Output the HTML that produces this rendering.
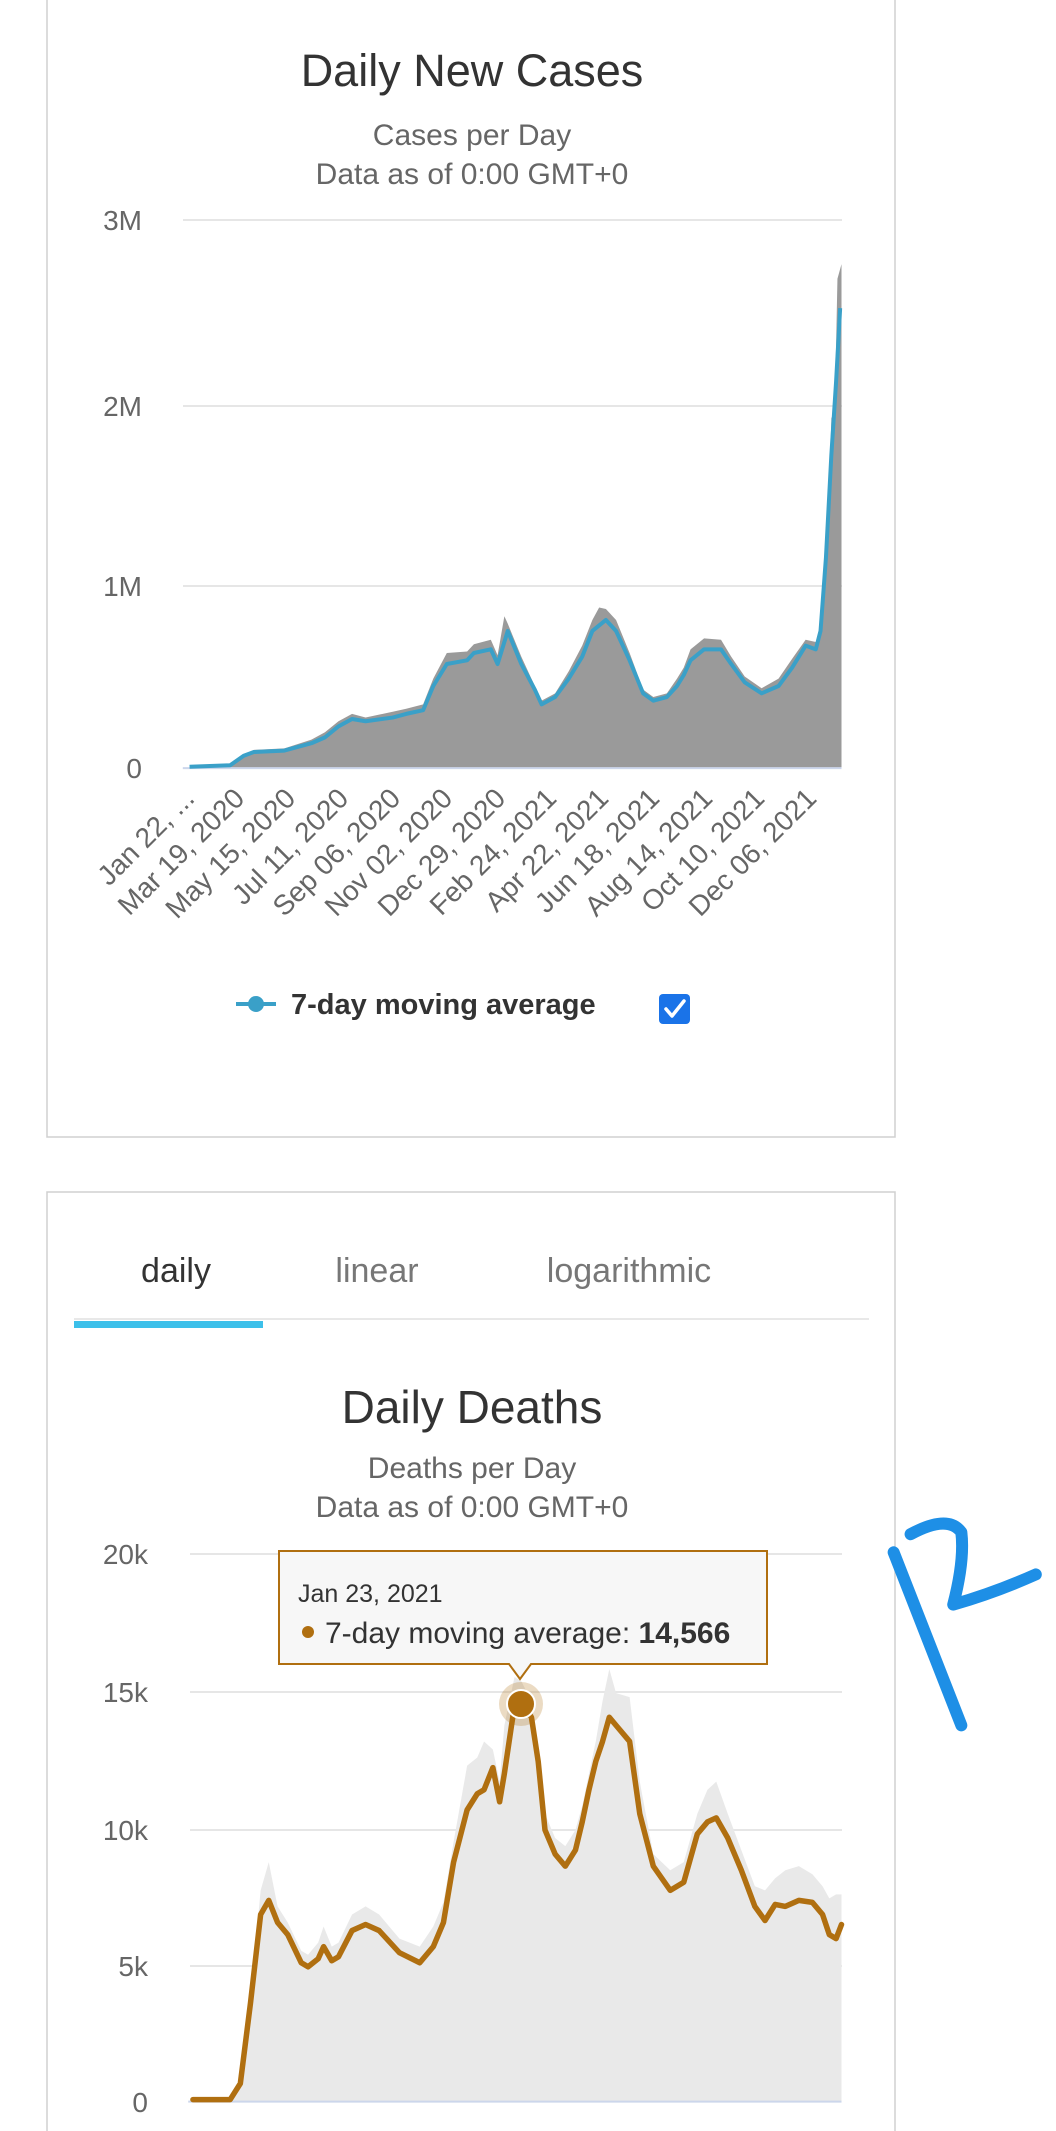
<!DOCTYPE html>
<html><head><meta charset="utf-8"><style>
body{margin:0;background:#fff;width:1056px;height:2131px;overflow:hidden;font-family:"Liberation Sans",sans-serif;}
svg{display:block}
</style></head><body>
<svg width="1056" height="2131" viewBox="0 0 1056 2131" font-family="Liberation Sans, sans-serif">
<rect x="47" y="-5" width="848" height="1142" fill="#fff" stroke="#d0d0d0" stroke-width="1.5"/>
<rect x="47" y="1192" width="848" height="960" fill="#fff" stroke="#d0d0d0" stroke-width="1.5"/>

<text x="472" y="86" text-anchor="middle" font-size="45" fill="#333">Daily New Cases</text>
<text x="472" y="145" text-anchor="middle" font-size="30" fill="#666">Cases per Day</text>
<text x="472" y="184" text-anchor="middle" font-size="30" fill="#666">Data as of 0:00 GMT+0</text>
<g stroke="#e6e6e6" stroke-width="2">
<line x1="183" y1="220" x2="842" y2="220"/><line x1="183" y1="406" x2="842" y2="406"/><line x1="183" y1="586" x2="842" y2="586"/>
</g>
<g font-size="28" fill="#666" text-anchor="end">
<text x="142" y="230">3M</text><text x="142" y="416">2M</text><text x="142" y="596">1M</text><text x="142" y="778">0</text>
</g>
<g transform="matrix(0.677,0,0,0.7337,0,0)">
<path fill="#9a9a9a" stroke="none" d="M280,1047 L340,1043 L360,1028 L375,1022 L420,1020 L460,1008 L480,998 L500,983 L520,973 L540,978 L580,970 L600,966 L625,960 L640,925 L660,890 L690,888 L700,878 L725,872 L735,893 L745,840 L750,850 L770,895 L790,935 L800,955 L820,945 L840,915 L860,880 L875,845 L885,828 L895,830 L910,845 L930,890 L950,940 L965,950 L985,945 L1000,925 L1010,910 L1020,885 L1040,870 L1065,872 L1080,895 L1100,922 L1125,938 L1150,925 L1170,898 L1190,872 L1205,875 L1212,850 L1218,800 L1222,760 L1228,570 L1233,560 L1237,380 L1243,360 L1243,1047 Z"/>
<path vector-effect="non-scaling-stroke" fill="none" stroke="#ccd6eb" stroke-width="2" d="M270,1047 L1243,1047"/>
<path vector-effect="non-scaling-stroke" fill="none" stroke="#3aa0c8" stroke-width="4" stroke-linejoin="round" d="M280,1045 L340,1043 L360,1030 L375,1025 L420,1023 L460,1013 L480,1005 L500,990 L520,980 L540,983 L580,978 L600,973 L625,968 L640,935 L660,905 L690,900 L700,890 L725,885 L735,905 L750,860 L770,905 L790,940 L800,960 L820,950 L840,925 L860,895 L875,860 L895,845 L910,860 L930,900 L950,945 L965,955 L985,950 L1000,935 L1010,920 L1020,900 L1040,885 L1065,885 L1080,905 L1100,930 L1125,945 L1150,935 L1170,910 L1190,880 L1205,885 L1212,860 L1220,760 L1228,620 L1235,520 L1241,420"/>
</g>
<g font-size="28" fill="#666" text-anchor="end">
<text transform="translate(196,800) rotate(-45)">Jan 22, ...</text>
<text transform="translate(246,800) rotate(-45)">Mar 19, 2020</text>
<text transform="translate(297,800) rotate(-45)">May 15, 2020</text>
<text transform="translate(350,800) rotate(-45)">Jul 11, 2020</text>
<text transform="translate(402,800) rotate(-45)">Sep 06, 2020</text>
<text transform="translate(454,800) rotate(-45)">Nov 02, 2020</text>
<text transform="translate(507,800) rotate(-45)">Dec 29, 2020</text>
<text transform="translate(558,800) rotate(-45)">Feb 24, 2021</text>
<text transform="translate(610,800) rotate(-45)">Apr 22, 2021</text>
<text transform="translate(661,800) rotate(-45)">Jun 18, 2021</text>
<text transform="translate(714,800) rotate(-45)">Aug 14, 2021</text>
<text transform="translate(766,800) rotate(-45)">Oct 10, 2021</text>
<text transform="translate(818,800) rotate(-45)">Dec 06, 2021</text>
</g>
<line x1="236" y1="1004" x2="276" y2="1004" stroke="#3aa0c8" stroke-width="4"/>
<circle cx="256" cy="1004" r="8" fill="#3aa0c8"/>
<text x="291" y="1014" font-size="29" font-weight="bold" fill="#333">7-day moving average</text>
<rect x="659" y="994" width="31" height="30" rx="4" fill="#1a73e8"/>
<path d="M666,1009 L672,1016 L684,1001" fill="none" stroke="#fff" stroke-width="3.5" stroke-linecap="round" stroke-linejoin="round"/>

<text x="176" y="1282" text-anchor="middle" font-size="34" fill="#333">daily</text>
<text x="377" y="1282" text-anchor="middle" font-size="34" fill="#777">linear</text>
<text x="629" y="1282" text-anchor="middle" font-size="34" fill="#777">logarithmic</text>
<line x1="74" y1="1319" x2="869" y2="1319" stroke="#e8e8e8" stroke-width="2"/>
<rect x="74" y="1321" width="189" height="7" fill="#3cc0ea"/>
<text x="472" y="1423" text-anchor="middle" font-size="46" fill="#333">Daily Deaths</text>
<text x="472" y="1478" text-anchor="middle" font-size="30" fill="#666">Deaths per Day</text>
<text x="472" y="1517" text-anchor="middle" font-size="30" fill="#666">Data as of 0:00 GMT+0</text>
<g stroke="#e6e6e6" stroke-width="2">
<line x1="190" y1="1554" x2="842" y2="1554"/><line x1="190" y1="1692" x2="842" y2="1692"/><line x1="190" y1="1830" x2="842" y2="1830"/><line x1="190" y1="1966" x2="842" y2="1966"/>
</g>
<g font-size="28" fill="#666" text-anchor="end">
<text x="148" y="1564">20k</text><text x="148" y="1702">15k</text><text x="148" y="1840">10k</text><text x="148" y="1976">5k</text><text x="148" y="2112">0</text>
</g>
<g transform="matrix(0.677,0,0,0.4024,0,1500)">
<path fill="#e9e9e9" d="M285,1495 L340,1495 L355,1440 L370,1240 L385,970 L397,900 L410,1010 L425,1050 L445,1120 L455,1130 L470,1100 L478,1060 L490,1110 L500,1100 L520,1030 L540,1010 L560,1030 L590,1090 L620,1110 L640,1060 L655,1000 L670,850 L690,660 L705,640 L715,600 L728,620 L738,700 L745,560 L760,440 L770,450 L785,500 L795,620 L805,780 L820,840 L835,860 L850,820 L860,760 L870,680 L880,600 L890,500 L900,420 L910,480 L930,490 L945,700 L965,880 L990,920 L1010,900 L1030,780 L1045,720 L1058,700 L1075,780 L1095,870 L1115,960 L1130,970 L1145,940 L1160,920 L1180,910 L1200,930 L1215,960 L1225,990 L1235,980 L1243,980 L1243,1495 Z"/>
<path vector-effect="non-scaling-stroke" fill="none" stroke="#ccd6eb" stroke-width="2" d="M278,1495 L1243,1495"/>
<path vector-effect="non-scaling-stroke" fill="none" stroke="#b06f10" stroke-width="5.5" stroke-linejoin="round" stroke-linecap="round" d="M285,1490 L340,1490 L355,1450 L370,1250 L385,1030 L397,995 L410,1050 L425,1080 L445,1150 L455,1160 L470,1140 L478,1110 L490,1145 L500,1135 L520,1070 L540,1055 L560,1070 L590,1125 L620,1150 L640,1110 L655,1050 L670,900 L690,770 L705,730 L715,720 L728,665 L738,750 L745,680 L760,510 L770,500 L785,540 L795,650 L805,820 L820,880 L835,910 L850,870 L860,800 L870,720 L880,650 L890,600 L900,540 L910,560 L930,600 L945,780 L965,910 L990,970 L1010,950 L1030,830 L1045,800 L1058,790 L1075,840 L1095,920 L1115,1010 L1130,1045 L1145,1005 L1160,1010 L1180,995 L1200,1000 L1215,1030 L1225,1080 L1235,1090 L1243,1055"/>
<path vector-effect="non-scaling-stroke" fill="none" stroke="#1e8fe6" stroke-width="12" stroke-linecap="round" stroke-linejoin="round" d="M1320,130 L1420,560 M1345,85 Q1400,35 1420,80 Q1425,150 1408,260 Q1470,230 1530,185"/>
</g>
<circle cx="521" cy="1704" r="22" fill="#b06f10" fill-opacity="0.25"/>
<circle cx="521" cy="1704" r="14" fill="#b06f10" stroke="#fff" stroke-width="2"/>
<path d="M279,1551 H767 V1664 H531 L520,1679 L509,1664 H279 Z" fill="#f7f7f7" fill-opacity="0.97" stroke="#b06f10" stroke-width="2"/>
<text x="298" y="1602" font-size="25" fill="#333">Jan 23, 2021</text>
<circle cx="308" cy="1632" r="6" fill="#b06f10"/>
<text x="325" y="1643" font-size="30" fill="#333">7-day moving average: <tspan font-weight="bold">14,566</tspan></text>
</svg>
</body></html>
